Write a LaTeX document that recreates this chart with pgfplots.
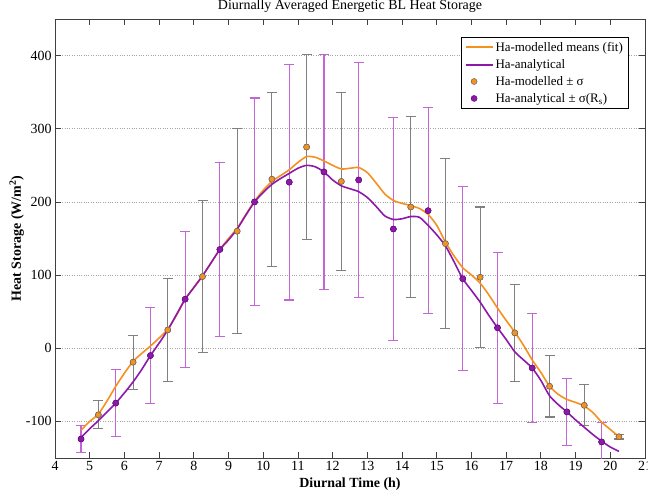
\documentclass[border=0pt]{standalone}
\usepackage{fontspec}
\setmainfont{Liberation Serif}
\usepackage{pgfplots}
\pgfplotsset{compat=1.18}
\definecolor{morange}{RGB}{245,145,30}
\definecolor{mpurple}{RGB}{140,25,170}
\definecolor{epurple}{RGB}{195,100,215}
\definecolor{egray}{RGB}{128,128,128}
\pgfplotsset{
  legline/.style={legend image code/.code={\path[##1] (0cm,0cm) -- (0.95cm,0cm);}},
  legdotcode/.style={legend image code/.code={\draw[mark repeat=2,mark phase=2,##1] plot coordinates {(0cm,0cm) (0.3cm,0cm) (0.6cm,0cm)};}},
}
\begin{document}
\begin{tikzpicture}
\begin{axis}[
  scale only axis, width=590bp, height=439bp,
  xmin=4, xmax=21, ymin=-150, ymax=450,
  xtick={4,5,...,21}, ytick={-100,0,100,200,300,400},
  tick align=inside, major tick length=6bp,
  ymajorgrids, grid style={dotted, gray!70, line width=0.6bp},
  axis line style={black!75, line width=0.8bp},
  tick style={black!75, line width=0.8bp},
  /pgf/number format/assume math mode=true,
  tick label style={font=\fontsize{14}{16}\selectfont},
  xlabel={\textbf{Diurnal Time (h)}},
  ylabel={\textbf{Heat Storage (W/m\textsuperscript{2})}},
  ylabel style={yshift=-5bp},
  label style={font=\fontsize{14}{16}\selectfont},
  title={Diurnally Averaged Energetic BL Heat Storage},
  title style={at={(0.5,1)}, anchor=base, yshift=4bp, font=\fontsize{14}{16}\selectfont},
  legend style={at={(rel axis cs:1,1)}, anchor=north east, xshift=-17bp, yshift=-18bp,
    font=\fontsize{13}{15}\selectfont, draw=black, inner sep=3bp, row sep=2.5bp},
  legend cell align=left,
]
% error bars, modelled (gray)
\addplot[forget plot, only marks, mark=*, mark size=3bp, mark options={fill=morange, draw=black!60, line width=0.5bp},
  error bars/.cd, y dir=both, y explicit,
  error bar style={color=egray, line width=1.1bp},
  error mark options={rotate=90, mark size=5bp, color=egray, line width=1.1bp}]
coordinates {
(5.25,-91) +- (0,19)
(6.25,-19) +- (0,37)
(7.25,25) +- (0,70)
(8.25,98) +- (0,104)
(9.25,160) +- (0,140)
(10.25,231) +- (0,119)
(11.25,275) +- (0,126)
(12.25,228) +- (0,122)
(14.25,193) +- (0,124)
(15.25,143) +- (0,116)
(16.25,97) +- (0,96)
(17.25,21) +- (0,66)
(18.25,-52) +- (0,42)
(19.25,-78) +- (0,28)
(20.25,-121) +- (0,3)
};
% error bars, analytical (purple)
\addplot[forget plot, only marks, mark=*, mark size=3bp, mark options={fill=mpurple, draw=mpurple!70!black, line width=0.5bp},
  error bars/.cd, y dir=both, y explicit,
  error bar style={color=epurple, line width=1.1bp},
  error mark options={rotate=90, mark size=5bp, color=epurple, line width=1.1bp}]
coordinates {
(4.75,-124) +- (0,19)
(5.75,-75) +- (0,46)
(6.75,-10) +- (0,66)
(7.75,67) +- (0,93)
(8.75,135) +- (0,119)
(9.75,200) +- (0,142)
(10.75,227) +- (0,161)
(11.75,241) +- (0,161)
(12.75,230) +- (0,161)
(13.75,163) +- (0,152)
(14.75,188) +- (0,141)
(15.75,95) +- (0,126)
(16.75,28) +- (0,103)
(17.75,-27) +- (0,74)
(18.75,-87) +- (0,46)
(19.75,-128) +- (0,26)
};
% modelled means (fit)
\addplot[forget plot, morange, line width=1.6bp, smooth, tension=0.4, mark=none] coordinates {
(4.75,-112) (5.0,-100) (5.25,-90) (5.5,-72) (5.75,-52) (6.0,-34) (6.25,-18) (6.5,-7)
(6.75,3) (7.0,14) (7.25,26) (7.5,45) (7.75,67) (8.0,83) (8.25,99) (8.5,117)
(8.75,135) (9.0,150) (9.25,164) (9.5,183) (9.75,201) (10.0,216) (10.25,228) (10.5,236)
(10.75,244) (11.0,254) (11.25,262) (11.5,261) (11.75,256) (12.0,250) (12.25,245) (12.5,246)
(12.75,247) (13.0,240) (13.25,226) (13.5,211) (13.75,202) (14.0,198) (14.25,195) (14.5,191)
(14.75,183) (15.0,168) (15.25,145) (15.5,126) (15.75,110) (16.0,100) (16.25,89) (16.5,73)
(16.75,55) (17.0,38) (17.25,22) (17.5,4) (17.75,-16) (18.0,-33) (18.25,-52) (18.5,-63)
(18.75,-70) (19.0,-74) (19.25,-79) (19.5,-88) (19.75,-101) (20.0,-111) (20.25,-121)
};
\addlegendimage{legline, draw=morange, line width=2bp, mark=none}
\addlegendentry{Ha-modelled means (fit)}
% analytical
\addplot[forget plot, mpurple, line width=1.6bp, smooth, tension=0.4, mark=none] coordinates {
(4.75,-122) (5.0,-110) (5.25,-99) (5.5,-87) (5.75,-75) (6.0,-61) (6.25,-46) (6.5,-29)
(6.75,-10) (7.0,7) (7.25,25) (7.5,46) (7.75,67) (8.0,83) (8.25,99) (8.5,117)
(8.75,135) (9.0,148) (9.25,163) (9.5,182) (9.75,200) (10.0,213) (10.25,224) (10.5,232)
(10.75,239) (11.0,246) (11.25,250) (11.5,248) (11.75,241) (12.0,230) (12.25,222) (12.5,218)
(12.75,214) (13.0,206) (13.25,194) (13.5,181) (13.75,176) (14.0,177) (14.25,180) (14.5,179)
(14.75,168) (15.0,155) (15.25,140) (15.5,118) (15.75,95) (16.0,79) (16.25,63) (16.5,45)
(16.75,28) (17.0,12) (17.25,-5) (17.5,-16) (17.75,-27) (18.0,-44) (18.25,-65) (18.5,-77)
(18.75,-87) (19.0,-98) (19.25,-108) (19.5,-118) (19.75,-127) (20.0,-135) (20.25,-141)
};
\addlegendimage{legline, draw=mpurple, line width=2bp, mark=none}
\addlegendentry{Ha-analytical}
% markers on top
\addplot[only marks, mark=*, mark size=3bp, mark options={fill=morange, draw=black!60, line width=0.5bp},
  legdotcode]
coordinates {
(5.25,-91) (6.25,-19) (7.25,25) (8.25,98) (9.25,160) (10.25,231) (11.25,275) (12.25,228)
(14.25,193) (15.25,143) (16.25,97) (17.25,21) (18.25,-52) (19.25,-78) (20.25,-121)
};
\addlegendentry{Ha-modelled ± σ}
\addplot[only marks, mark=*, mark size=3bp, mark options={fill=mpurple, draw=mpurple!70!black, line width=0.5bp},
  legdotcode]
coordinates {
(4.75,-124) (5.75,-75) (6.75,-10) (7.75,67) (8.75,135) (9.75,200) (10.75,227) (11.75,241)
(12.75,230) (13.75,163) (14.75,188) (15.75,95) (16.75,28) (17.75,-27) (18.75,-87) (19.75,-128)
};
\addlegendentry{Ha-analytical ± σ(R\textsubscript{s})}
\end{axis}
\pgfresetboundingbox
\path[use as bounding box] ([xshift=-55bp,yshift=-42bp]current axis.south west) rectangle ([xshift=3bp,yshift=19bp]current axis.north east);
\end{tikzpicture}
\end{document}
